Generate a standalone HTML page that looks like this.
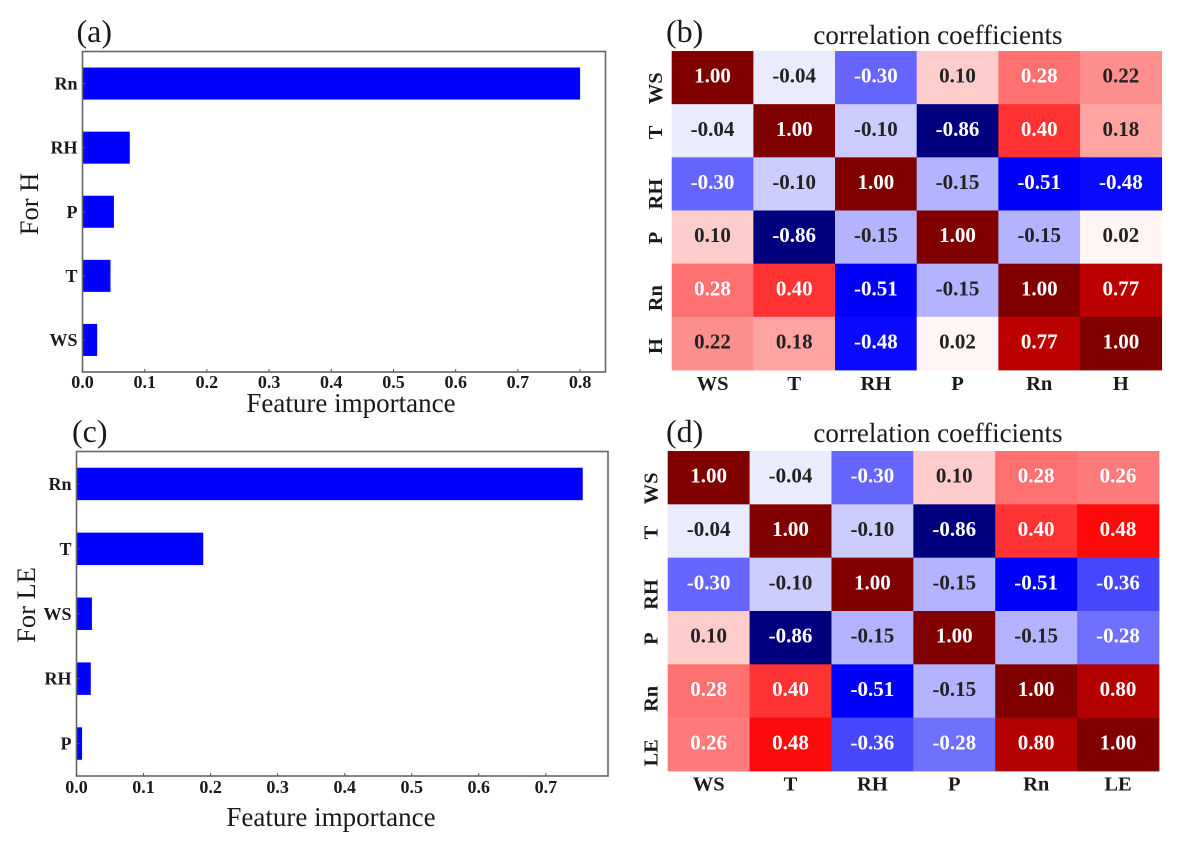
<!DOCTYPE html>
<html lang="en">
<head>
<meta charset="utf-8">
<title>Feature importance and correlation coefficients</title>
<style>
  html, body { margin: 0; padding: 0; background: #fff; }
  #figure { display: block; width: 1178px; height: 846px; font-family: "Liberation Serif", serif; filter: blur(0.35px); }
</style>
</head>
<body>
<svg id="figure" xmlns="http://www.w3.org/2000/svg" width="1178" height="846" viewBox="0 0 1178 846">
  <rect x="0" y="0" width="1178" height="846" fill="#fff"></rect>
</svg>
<script>
/* ---------- chart data ---------- */
const categoriesH = ["Rn", "RH", "P", "T", "WS"];
const importanceH = [0.80, 0.076, 0.0505, 0.045, 0.0236];
const xTicksH = [0.0, 0.1, 0.2, 0.3, 0.4, 0.5, 0.6, 0.7, 0.8];

const categoriesLE = ["Rn", "T", "WS", "RH", "P"];
const importanceLE = [0.755, 0.189, 0.023, 0.0213, 0.0083];
const xTicksLE = [0.0, 0.1, 0.2, 0.3, 0.4, 0.5, 0.6, 0.7];

const heatLabelsH = ["WS", "T", "RH", "P", "Rn", "H"];
const corrH = [
  [1.00, -0.04, -0.30, 0.10, 0.28, 0.22],
  [-0.04, 1.00, -0.10, -0.86, 0.40, 0.18],
  [-0.30, -0.10, 1.00, -0.15, -0.51, -0.48],
  [0.10, -0.86, -0.15, 1.00, -0.15, 0.02],
  [0.28, 0.40, -0.51, -0.15, 1.00, 0.77],
  [0.22, 0.18, -0.48, 0.02, 0.77, 1.00]
];

const heatLabelsLE = ["WS", "T", "RH", "P", "Rn", "LE"];
const corrLE = [
  [1.00, -0.04, -0.30, 0.10, 0.28, 0.26],
  [-0.04, 1.00, -0.10, -0.86, 0.40, 0.48],
  [-0.30, -0.10, 1.00, -0.15, -0.51, -0.36],
  [0.10, -0.86, -0.15, 1.00, -0.15, -0.28],
  [0.28, 0.40, -0.51, -0.15, 1.00, 0.80],
  [0.26, 0.48, -0.36, -0.28, 0.80, 1.00]
];

/* ---------- helpers ---------- */
const NS = "http://www.w3.org/2000/svg";
const figure = document.getElementById("figure");

function make(tag, attrs, parent, text) {
  const el = document.createElementNS(NS, tag);
  for (const k in attrs) el.setAttribute(k, attrs[k]);
  if (text !== undefined) el.textContent = text;
  parent.appendChild(el);
  return el;
}

/* seismic colormap on [-1, 1] */
function seismic(v) {
  const t = Math.max(-1, Math.min(1, v));
  let r, g, b;
  if (t < -0.5) { r = 0; g = 0; b = 0.3 + 0.7 * (t + 1) * 2; }
  else if (t < 0) { r = (t + 0.5) * 2; g = r; b = 1; }
  else if (t < 0.5) { r = 1; g = 1 - t * 2; b = g; }
  else { r = 1 - (t - 0.5); g = 0; b = 0; }
  return "rgb(" + Math.round(r * 255) + "," + Math.round(g * 255) + "," + Math.round(b * 255) + ")";
}

function slug(s) {
  return String(s).toLowerCase().replace(/[^a-z0-9]+/g, "-");
}

/* ---------- bar panel ---------- */
function drawBars(id, cats, vals, ticks, box) {
  const g = make("g", {}, figure);
  
  

  const xScale = v => box.x0 + v * box.pxPerUnit;
  const band = (box.bottom - box.top) / cats.length;
  const yScale = i => box.top + band * (i + 0.5);

  cats.forEach((c, i) => {
    const bar = make("rect", {
      x: xScale(0), y: yScale(i) - band * 0.25,
      width: xScale(vals[i]) - xScale(0), height: band * 0.5,
      fill: "#0000ff"
    }, g);
    
    

    const lab = make("text", {
      x: box.x0 - 5, y: yScale(i) + 6, "text-anchor": "end",
      "font-size": 18, "font-weight": "bold", fill: "#1a1a1a"
    }, g, c);
    
    

    const tk = make("line", {
      x1: box.x0, x2: box.x0 + 3, y1: yScale(i), y2: yScale(i),
      stroke: "#555", "stroke-width": 1
    }, g);
    
    
  });

  const frame = make("rect", {
    x: box.x0, y: box.top, width: box.right - box.x0, height: box.bottom - box.top,
    fill: "none", stroke: "#666", "stroke-width": 1.6
  }, g);
  
  

  ticks.forEach(t => {
    const tk = make("line", {
      x1: xScale(t), x2: xScale(t), y1: box.bottom, y2: box.bottom - 3,
      stroke: "#555", "stroke-width": 1
    }, g);
    
    

    const lab = make("text", {
      x: xScale(t), y: box.tickBase, "text-anchor": "middle",
      "font-size": 18, "font-weight": "bold", fill: "#1a1a1a"
    }, g, t.toFixed(1));
    
    
  });

  const xt = make("text", {
    x: box.xTitleX, y: box.xTitleY, "text-anchor": "middle", "font-size": 27, fill: "#1a1a1a"
  }, g, "Feature importance");
  
  

  const yt = make("text", {
    transform: "translate(" + box.yTitleX + "," + box.yTitleY + ") rotate(-90)",
    "text-anchor": "middle", "font-size": 26.5, fill: "#1a1a1a"
  }, g, box.yTitle);
  
  

  const pl = make("text", {
    x: box.tagX, y: box.tagY, "font-size": 32, fill: "#1a1a1a"
  }, g, box.tag);
  
  
}

/* ---------- heatmap panel ---------- */
function drawHeat(id, labels, matrix, box) {
  const g = make("g", {}, figure);
  
  

  const cw = (box.right - box.left) / labels.length;
  const ch = (box.bottom - box.top) / labels.length;
  const xBand = i => box.left + cw * i;
  const yBand = i => box.top + ch * i;

  matrix.forEach((row, r) => {
    row.forEach((v, c) => {
      const cell = make("rect", {
        x: xBand(c), y: yBand(r), width: cw + 0.4, height: ch + 0.4,
        fill: seismic(v)
      }, g);
      
      

      const txt = make("text", {
        x: xBand(c) + cw / 2, y: yBand(r) + ch / 2 + 5, "text-anchor": "middle",
        "font-size": 21, "font-weight": "bold",
        fill: Math.abs(v) >= 0.25 ? "#ffffff" : "#222222"
      }, g, v.toFixed(2));
      
      
    });
  });

  labels.forEach((l, i) => {
    const xl = make("text", {
      x: xBand(i) + cw / 2, y: box.xBase, "text-anchor": "middle",
      "font-size": 20.5, "font-weight": "bold", fill: "#1a1a1a"
    }, g, l);
    
    

    const yl = make("text", {
      transform: "translate(" + box.yBase + "," + (yBand(i) + ch / 2 - 5.2) + ") rotate(-90)",
      "text-anchor": "end", "font-size": 20.5, "font-weight": "bold", fill: "#1a1a1a"
    }, g, l);
    
    
  });

  const title = make("text", {
    x: box.titleX, y: box.titleY, "text-anchor": "middle", "font-size": 27, fill: "#1a1a1a"
  }, g, "correlation coefficients");
  
  

  const pl = make("text", {
    x: box.tagX, y: box.tagY, "font-size": 32, fill: "#1a1a1a"
  }, g, box.tag);
  
  
}

/* ---------- draw ---------- */
drawBars("a", categoriesH, importanceH, xTicksH, {
  x0: 82.5, right: 605.5, top: 51.5, bottom: 372, pxPerUnit: 622,
  tickBase: 388, xTitleX: 351, xTitleY: 412,
  yTitle: "For H", yTitleX: 38, yTitleY: 204, tag: "(a)", tagX: 76.5, tagY: 42
});
drawBars("c", categoriesLE, importanceLE, xTicksLE, {
  x0: 76.5, right: 608, top: 451.5, bottom: 776, pxPerUnit: 670.5,
  tickBase: 793, xTitleX: 331, xTitleY: 826,
  yTitle: "For LE", yTitleX: 35, yTitleY: 605, tag: "(c)", tagX: 72, tagY: 442
});
drawHeat("b", heatLabelsH, corrH, {
  left: 671.7, right: 1161.7, top: 51, bottom: 370,
  xBase: 390, yBase: 662, titleX: 938, titleY: 44, tag: "(b)", tagX: 666, tagY: 42
});
drawHeat("d", heatLabelsLE, corrLE, {
  left: 667.7, right: 1159, top: 451, bottom: 771,
  xBase: 790.5, yBase: 657.5, titleX: 938, titleY: 442, tag: "(d)", tagX: 666, tagY: 442
});
</script>
</body>
</html>
